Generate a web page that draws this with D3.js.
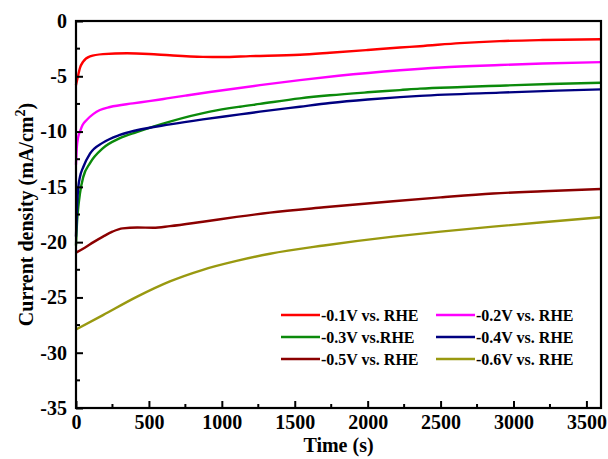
<!DOCTYPE html>
<html>
<head>
<meta charset="utf-8">
<script src="https://cdn.jsdelivr.net/npm/d3@7"></script>
<style>
  body { margin: 0; background: #fff; }
  text { font-family: "Liberation Serif", "Times New Roman", serif; font-weight: bold; }
</style>
</head>
<body>
<div id="chart"></div>
<script>
// series values: [time s, current density mA/cm2]
const v01 = [[0,-5.8],[15,-4.9],[27,-4.25],[48,-3.7],[96,-3.2],[185,-3.0],[350,-2.92],[500,-2.98],
  [644,-3.1],[870,-3.24],[1000,-3.26],[1193,-3.18],[1535,-3.05],[1741,-2.87],[2000,-2.62],
  [2221,-2.4],[2358,-2.28],[2632,-2.0],[2906,-1.82],[3200,-1.72],[3600,-1.65]];
const v02 = [[0,-13],[5,-11.5],[15,-10.5],[27,-10],[45,-9.4],[73,-8.95],[120,-8.4],[164,-8.05],
  [233,-7.78],[390,-7.45],[500,-7.25],[600,-7.05],[750,-6.75],[918,-6.42],[1261,-5.8],[1535,-5.35],
  [1800,-4.95],[2221,-4.45],[2500,-4.2],[2906,-3.98],[3200,-3.85],[3600,-3.72]];
const v03 = [[0,-20.3],[8,-18],[16,-16.8],[27,-15.6],[50,-14.1],[96,-12.85],[185,-11.5],[301,-10.6],
  [416,-10.05],[530,-9.55],[644,-9.1],[918,-8.2],[1124,-7.75],[1261,-7.5],[1535,-7.0],[1741,-6.72],
  [2000,-6.45],[2221,-6.25],[2358,-6.12],[2650,-5.97],[2906,-5.85],[3250,-5.7],[3600,-5.58]];
const v04 = [[0,-19.5],[8,-16.5],[16,-15],[27,-14.1],[50,-13.2],[96,-12.0],[185,-11.0],[301,-10.3],
  [416,-9.88],[644,-9.35],[870,-8.9],[1124,-8.45],[1261,-8.2],[1535,-7.75],[1741,-7.42],
  [2000,-7.1],[2221,-6.88],[2358,-6.77],[2906,-6.48],[3300,-6.3],[3600,-6.18]];
const v05 = [[0,-20.95],[60,-20.5],[120,-20.0],[185,-19.5],[250,-19.05],[320,-18.75],[420,-18.68],
  [530,-18.7],[644,-18.55],[870,-18.15],[1101,-17.72],[1330,-17.33],[1700,-16.85],[2175,-16.3],
  [2500,-15.95],[2860,-15.6],[3200,-15.4],[3600,-15.2]];
const v06 = [[0,-27.9],[185,-26.6],[416,-24.95],[644,-23.55],[870,-22.5],[1101,-21.7],[1330,-21.05],
  [1700,-20.3],[2175,-19.5],[2500,-19.05],[2860,-18.6],[3200,-18.2],[3600,-17.75]];

const labels = ["-0.1V vs. RHE", "-0.2V vs. RHE", "-0.3V vs.RHE", "-0.4V vs. RHE", "-0.5V vs. RHE", "-0.6V vs. RHE"];
const colors = ["#ff0000", "#ff00ff", "#0b8a0b", "#000080", "#8b0000", "#999910"];
const xTicks = [0, 500, 1000, 1500, 2000, 2500, 3000, 3500];
const yTicks = [0, -5, -10, -15, -20, -25, -30, -35];

const series = [v01, v02, v03, v04, v05, v06];

const W = 608, H = 459;
const m = { left: 76, right: 7, top: 21, bottom: 51 };

const svg = d3.select("#chart").append("svg")
  .attr("width", W).attr("height", H);

const x = d3.scaleLinear().domain([0, 3600]).range([m.left, W - m.right]);
const y = d3.scaleLinear().domain([-35, 0]).range([H - m.bottom, m.top]);

// curves
const line = d3.line().x(d => x(d[0])).y(d => y(d[1])).curve(d3.curveMonotoneX);
svg.append("g").selectAll("path").data(series).join("path")
  .attr("d", line)
  .attr("fill", "none")
  .attr("stroke", (d, i) => colors[i])
  .attr("stroke-width", 2.4);

// axes with inward ticks, plain hyphen minus
const fmt = d => String(d);
const xAxis = svg.append("g").attr("transform", `translate(0,${H - m.bottom})`)
  .call(d3.axisBottom(x).tickValues(xTicks).tickFormat(fmt).tickSizeInner(-7).tickSizeOuter(0).tickPadding(7));
const yAxis = svg.append("g").attr("transform", `translate(${m.left},0)`)
  .call(d3.axisLeft(y).tickValues(yTicks).tickFormat(fmt).tickSizeInner(-7).tickSizeOuter(0).tickPadding(9));

// minor ticks
svg.append("g").selectAll("line").data(d3.range(250, 3600, 500)).join("line")
  .attr("x1", d => x(d)).attr("x2", d => x(d))
  .attr("y1", H - m.bottom).attr("y2", H - m.bottom - 4)
  .attr("stroke", "#000").attr("stroke-width", 2);
svg.append("g").selectAll("line").data(d3.range(-32.5, 0, 5)).join("line")
  .attr("y1", d => y(d)).attr("y2", d => y(d))
  .attr("x1", m.left).attr("x2", m.left + 4)
  .attr("stroke", "#000").attr("stroke-width", 2);

[xAxis, yAxis].forEach(a => {
  a.selectAll("text").attr("font-size", 20).attr("fill", "#000")
    .style("font-family", "'Liberation Serif', serif").style("font-weight", "bold");
  a.selectAll(".tick line").attr("stroke-width", 2);
  a.select(".domain").remove();
});

// frame
svg.append("rect")
  .attr("x", m.left).attr("y", m.top)
  .attr("width", W - m.right - m.left).attr("height", H - m.bottom - m.top)
  .attr("fill", "none").attr("stroke", "#000").attr("stroke-width", 2.2);

// axis titles
svg.append("text")
  .attr("x", (m.left + W - m.right) / 2).attr("y", 452)
  .attr("text-anchor", "middle").attr("font-size", 20)
  .text("Time (s)");

const yt = svg.append("text")
  .attr("transform", `translate(33,${(m.top + H - m.bottom) / 2}) rotate(-90)`)
  .attr("text-anchor", "middle").attr("font-size", 20);
yt.append("tspan").text("Current density (mA/cm");
yt.append("tspan").attr("dy", -8).attr("font-size", 14).text("2");
yt.append("tspan").attr("dy", 8).text(")");

// legend
const legend = svg.append("g").selectAll("g").data(labels).join("g")
  .attr("transform", (d, i) => `translate(${i % 2 === 0 ? 281 : 436},${315 + Math.floor(i / 2) * 22})`);
legend.append("line")
  .attr("x1", 0).attr("x2", 39)
  .attr("stroke", (d, i) => colors[i]).attr("stroke-width", 2.6);
legend.append("text")
  .attr("x", 40).attr("dy", "0.35em").attr("font-size", 16)
  .text(d => d);
</script>
</body>
</html>
